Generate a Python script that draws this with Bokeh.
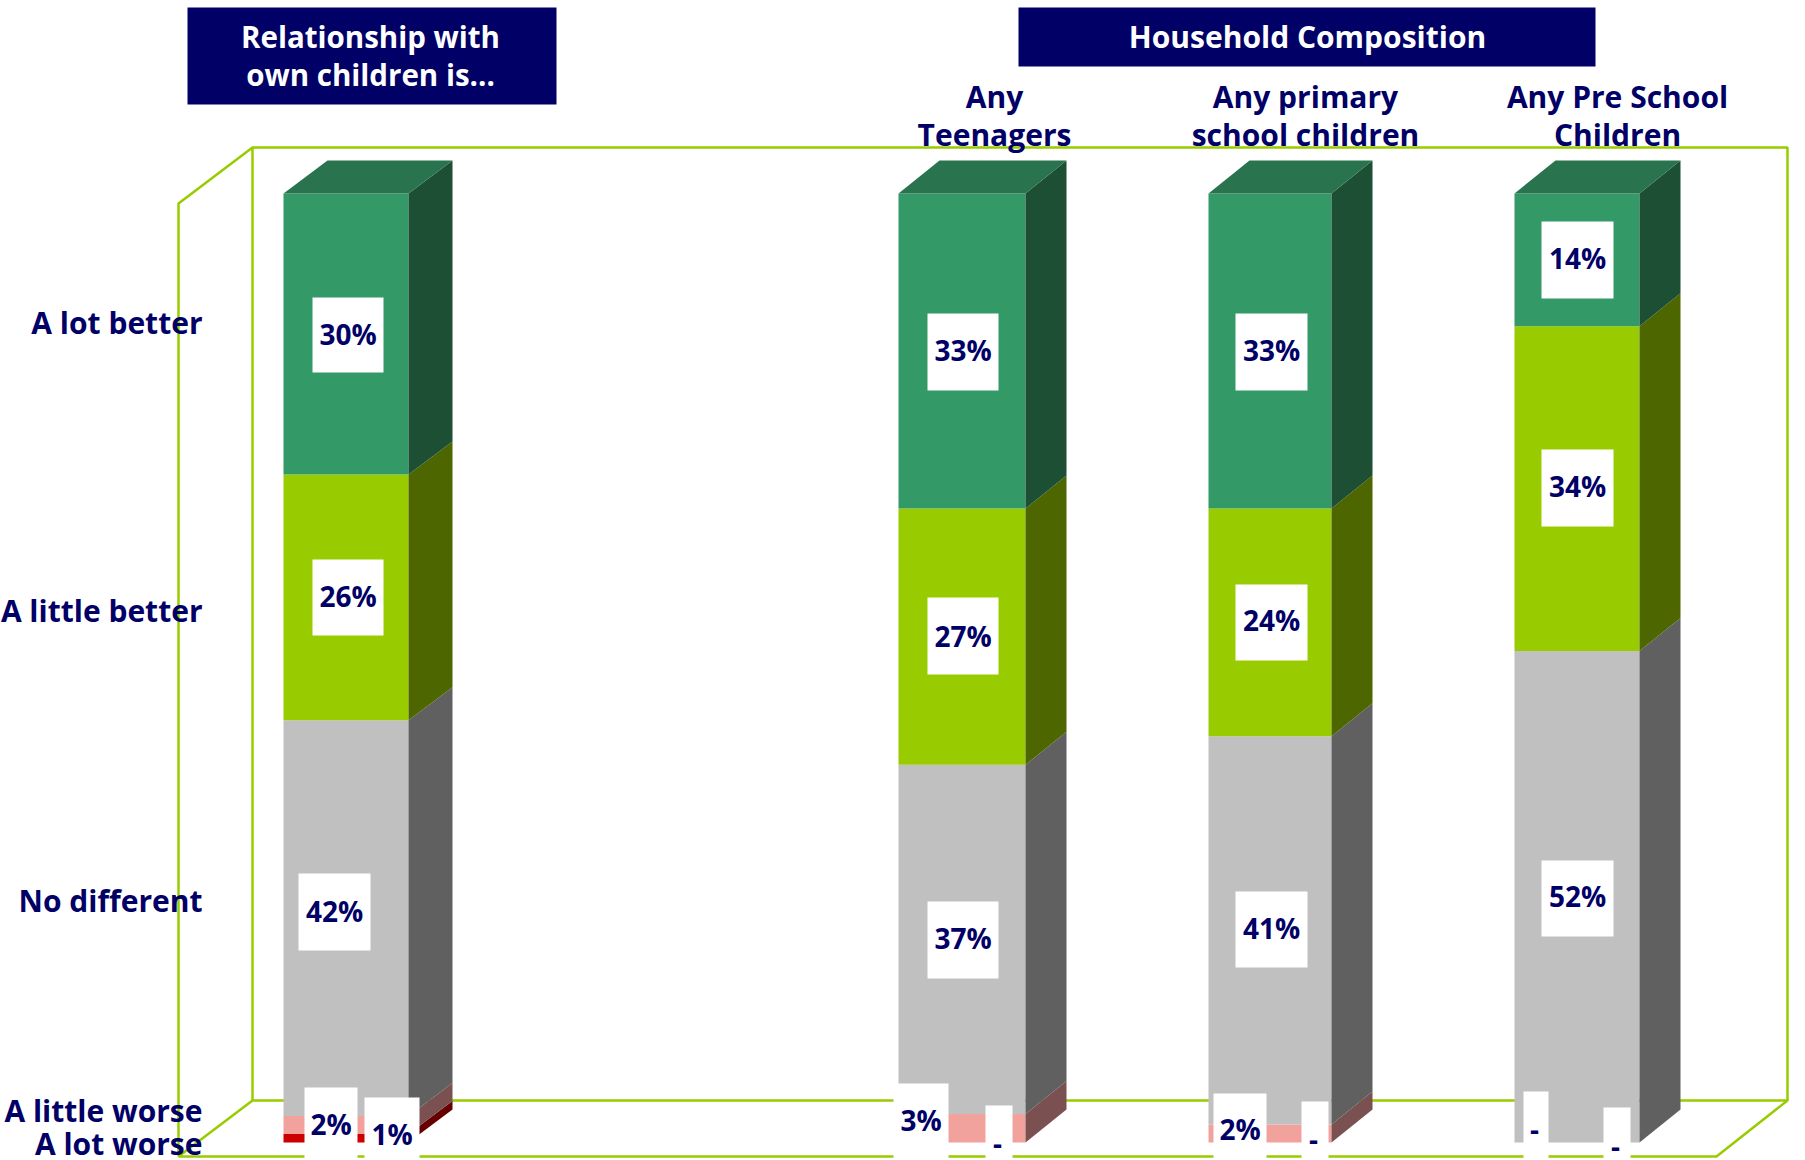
from bokeh.plotting import figure
from bokeh.models import Range1d
from bokeh.core.properties import value
from bokeh.embed import file_html
from bokeh.resources import INLINE

# ---- data (bar shares; labels are these values rounded) ----
series_names = ["A lot worse", "A little worse", "No different", "A little better", "A lot better"]
lot_worse = [0.9, 0, 0, 0]
little_worse = [1.9, 3.0, 1.9, 0]
no_different = [41.7, 36.8, 40.9, 51.8]
little_better = [25.9, 27.0, 24.0, 34.2]
lot_better = [29.6, 33.2, 33.2, 14.0]
series_values = [lot_worse, little_worse, no_different, little_better, lot_better]
column_heads = [["Any", "Teenagers"], ["Any primary", "school children"], ["Any Pre School", "Children"]]

# ---- layout ----
W, H = 1805, 1160
BASE_PX, PX_PER_PCT = 1142, 9.49
bar_left = [283, 898, 1208, 1514]
bar_right = [408, 1025, 1331, 1639]
depth_x = [44, 41, 41, 41]
depth_y = 33 / PX_PER_PCT
front = ["#CC0000", "#F2A29C", "#C0C0C0", "#99CC00", "#339966"]
side = ["#660000", "#7A5050", "#606060", "#4D6600", "#1D4F35"]
TOP_COLOR = "#2A734F"
NAVY = "#000066"
LIME = "#99CC00"
FONT = "Open Sans"
cat_label_y = [1143, 1110, 900, 610, 322]
cat_label_right = 202
head_x = [994, 1305, 1617]
# label boxes: (left, right, top, bottom, text centre y) per (series, bar)
label_boxes = {
    (4, 0): (312, 383, 297, 372, 333), (3, 0): (312, 383, 559, 635, 595), (2, 0): (298, 370, 873, 950, 910),
    (1, 0): (304, 357, 1087, 1160, 1123), (0, 0): (364, 419, 1097, 1160, 1133),
    (4, 1): (927, 998, 313, 390, 349), (3, 1): (927, 998, 597, 674, 635), (2, 1): (927, 998, 901, 978, 937),
    (1, 1): (893, 948, 1083, 1160, 1119), (0, 1): (985, 1012, 1105, 1160, 1143),
    (4, 2): (1235, 1307, 313, 390, 349), (3, 2): (1235, 1307, 584, 660, 619), (2, 2): (1235, 1307, 891, 967, 927),
    (1, 2): (1213, 1266, 1093, 1160, 1128), (0, 2): (1301, 1328, 1101, 1160, 1139),
    (4, 3): (1541, 1613, 221, 298, 257), (3, 3): (1541, 1613, 449, 526, 485), (2, 3): (1541, 1613, 860, 936, 895),
    (1, 3): (1523, 1548, 1091, 1160, 1129), (0, 3): (1603, 1630, 1107, 1160, 1146),
}


def yv(px):
    return (BASE_PX - px) / PX_PER_PCT


p = figure(width=W, height=H, x_range=Range1d(0, W), y_range=Range1d(yv(H), yv(0)),
           output_backend="svg", toolbar_location=None, min_border=0, outline_line_color=None,
           background_fill_color="white", border_fill_color="white")
p.axis.visible = False
p.grid.visible = False

# frame
frame_paths = [
    [(178, 1156), (178, 203), (252, 147), (1787, 147), (1787, 1100), (1716, 1156), (178, 1156)],
    [(252, 147), (252, 1100), (1787, 1100)],
    [(178, 1156), (252, 1100)],
]
for path in frame_paths:
    p.line([a for a, _ in path], [yv(b) for _, b in path], line_color=LIME, line_width=2.5)

# bars
for b in range(4):
    total = sum(s[b] for s in series_values)
    cum = 0.0
    l, r, dx = bar_left[b], bar_right[b], depth_x[b]
    for i, s in enumerate(series_values):
        v = s[b] / total * 100
        if v > 0:
            p.quad(left=[l], right=[r], bottom=[cum], top=[cum + v], fill_color=front[i], line_color=None)
            p.patch([r, r + dx, r + dx, r], [cum, cum + depth_y, cum + v + depth_y, cum + v],
                    fill_color=side[i], line_color=None)
        cum += v
    p.patch([l, l + dx, r + dx, r], [cum, cum + depth_y, cum + depth_y, cum], fill_color=TOP_COLOR, line_color=None)


def txt(x, y, s, color=NAVY, size="30px", align="center"):
    p.text([x], [yv(y)], text=[s], text_color=color, text_font=value(FONT), text_font_size=size,
           text_align=align, text_baseline="middle", text_font_style="bold")


# category labels
for name, y in zip(series_names, cat_label_y):
    txt(cat_label_right, y, name, align="right", size="30px")

# header boxes
p.quad(left=[187, 1018], right=[556, 1595], top=[yv(7), yv(7)], bottom=[yv(104), yv(66)], fill_color=NAVY, line_color=None)
txt(370, 36, "Relationship with", color="white", size="29.5px")
txt(370, 74, "own children is...", color="white", size="29.5px")
txt(1307, 36, "Household Composition", color="white", size="30px")
for x, (a, c) in zip(head_x, column_heads):
    txt(x, 96, a)
    txt(x, 134, c)

# value labels
for (i, b), (l, r, t, bot, cy) in label_boxes.items():
    p.quad(left=[l], right=[r], top=[yv(t)], bottom=[yv(bot)], fill_color="white", line_color=None)
    v = series_values[i][b]
    if v:
        txt((l + r) / 2, cy, f"{round(v)}%", size="28px")
    else:
        txt((l + r) / 2 - 1.5, cy, "-", size="28px")

open("out.html", "w").write(file_html(p, INLINE))
